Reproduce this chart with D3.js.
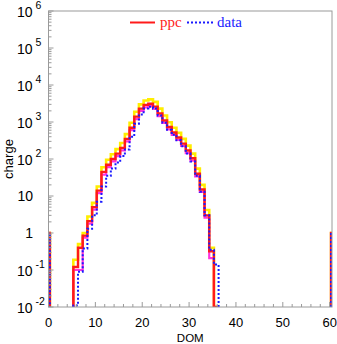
<!DOCTYPE html>
<html><head><meta charset="utf-8">
<script src="https://cdn.jsdelivr.net/npm/d3@7"></script>
<style>body{margin:0;background:#fff}svg{display:block}</style>
</head><body>
<svg id="c" width="337" height="344"></svg>
<script>
// DOM bins (bin k spans k+offset .. k+1+offset)
const bins    = [-1, 5, 6, 7, 8, 9, 10, 11, 12, 13, 14, 15, 16, 17, 18, 19, 20, 21, 22, 23, 24, 25, 26, 27, 28, 29, 30, 31, 32, 33, 34, 35, 60];
const ppc     = [1, 0.12, 0.4, 0.85, 2.1, 5, 14, 45, 70, 100, 140, 200, 350, 700, 1400, 2300, 2900, 3100, 2600, 1700, 1100, 730, 520, 380, 260, 170, 105, 40, 15, 3, 0.32, 0, 1];
const ppcHigh = [1, 0.19, 0.5, 1.0, 2.8, 6.5, 18, 60, 95, 135, 185, 270, 470, 950, 1900, 3000, 3800, 4100, 3500, 2300, 1500, 980, 700, 510, 350, 230, 140, 55, 20, 4.2, 0.4, 0, 1];
const ppcLow  = [1, 0.1, 0.1, 0.75, 1.8, 4.3, 12, 38, 60, 86, 120, 170, 300, 600, 1200, 2000, 2500, 2700, 2250, 1450, 950, 630, 450, 330, 225, 145, 90, 34, 13, 2.6, 0.21, 0, 1];
const data    = [1, 0.011, 0.09, 0.38, 1.3, 3, 7, 18, 35, 55, 80, 120, 180, 400, 900, 1600, 2300, 2600, 2300, 1500, 950, 620, 450, 320, 220, 140, 85, 35, 13, 3, 0.35, 0.14, 1];
const xTicks  = [0, 10, 20, 30, 40, 50, 60];
const yExps   = [-2, -1, 0, 1, 2, 3, 4, 5, 6];
const legendNames = ["ppc", "data"];

const L = 48.5, R = 332, T = 11, B = 307;
const binOffset = 0.3;
const svg = d3.select("#c");
const x = d3.scaleLinear().domain([0, 60.5]).range([L, R]);
const y = d3.scaleLog().domain([1e-2, 1e6]).range([B, T]);
const floorV = 1e-2;

svg.append("defs").append("clipPath").attr("id", "clip")
  .append("rect").attr("x", L).attr("y", T).attr("width", R - L).attr("height", B - T);

function stepPath(vals) {
  let p = "";
  let prevK = null;
  bins.forEach((k, i) => {
    const v = Math.max(vals[i], floorV);
    const lo = x(k + binOffset), hi = x(k + 1 + binOffset);
    if (prevK === null || k !== prevK + 1) {
      if (prevK !== null) p += `L${x(prevK + 1 + binOffset)},${y(floorV)}`;
      p += `M${lo},${y(floorV)}`;
    }
    p += `L${lo},${y(v)}L${hi},${y(v)}`;
    prevK = k;
  });
  p += `L${x(prevK + 1 + binOffset)},${y(floorV)}`;
  return p;
}

const g = svg.append("g").attr("clip-path", "url(#clip)");
g.append("path").attr("d", stepPath(ppcHigh)).attr("fill", "none").attr("stroke", "#ffee00").attr("stroke-width", 2.6);
g.append("path").attr("d", stepPath(ppcLow)).attr("fill", "none").attr("stroke", "#ff33dd").attr("stroke-width", 2.2);
g.append("path").attr("d", stepPath(ppc)).attr("fill", "none").attr("stroke", "#ff1a1a").attr("stroke-width", 2.4);
g.append("path").attr("d", stepPath(data)).attr("fill", "none").attr("stroke", "#1a1aff").attr("stroke-width", 2).attr("stroke-dasharray", "2,2");

// frame
const frameCol = "#9a9a9a";
svg.append("rect").attr("x", L).attr("y", T).attr("width", R - L).attr("height", B - T)
  .attr("fill", "none").attr("stroke", frameCol).attr("stroke-width", 1);

const sans = "Liberation Sans, Arial, sans-serif";
// y ticks
yExps.forEach(e => {
  const v = Math.pow(10, e);
  svg.append("line").attr("x1", L).attr("x2", L + 5).attr("y1", y(v)).attr("y2", y(v)).attr("stroke", frameCol);
  if (e < 6) {
    for (let m = 2; m <= 9; m++) {
      const yy = y(m * v);
      svg.append("line").attr("x1", L).attr("x2", L + 3).attr("y1", yy).attr("y2", yy).attr("stroke", frameCol);
    }
  }
  const t = svg.append("text").attr("font-family", sans).attr("fill", "#000");
  if (e === 0) {
    t.attr("x", 33).attr("y", y(v) + 5).attr("text-anchor", "end").attr("font-size", 14).text("1");
  } else if (e === 1) {
    t.attr("x", 33).attr("y", y(v) + 5).attr("text-anchor", "end").attr("font-size", 14).text("10");
  } else {
    t.attr("x", 17).attr("y", y(v) + 6).attr("font-size", 14);
    t.append("tspan").text("10");
    t.append("tspan").attr("dx", 3).attr("dy", -8).attr("font-size", 10.5).text(String(e));
  }
});

// x ticks
for (let v = 0; v <= 60; v += 2) {
  const len = v % 10 === 0 ? 5 : 3;
  svg.append("line").attr("x1", x(v)).attr("x2", x(v)).attr("y1", B).attr("y2", B - len).attr("stroke", frameCol);
}
xTicks.forEach(v => {
  svg.append("text").attr("x", x(v)).attr("y", 327).attr("text-anchor", "middle")
    .attr("font-family", sans).attr("font-size", 13).text(v);
});

svg.append("text").attr("x", (L + R) / 2).attr("y", 341.5).attr("text-anchor", "middle")
  .attr("font-family", sans).attr("font-size", 11.5).text("DOM");
svg.append("text").attr("transform", `translate(13,${(T + B) / 2}) rotate(-90)`).attr("text-anchor", "middle")
  .attr("font-family", sans).attr("font-size", 13).text("charge");

// legend
const lg = svg.append("g");
lg.append("line").attr("x1", 130).attr("x2", 155).attr("y1", 22.5).attr("y2", 22.5).attr("stroke", "#ff1a1a").attr("stroke-width", 2);
lg.append("text").attr("x", 160).attr("y", 27).attr("fill", "#ff1a1a").attr("font-family", "Liberation Serif, Times New Roman, serif").attr("font-size", 15).text(legendNames[0]);
lg.append("line").attr("x1", 187).attr("x2", 213).attr("y1", 22.5).attr("y2", 22.5).attr("stroke", "#1a1aff").attr("stroke-width", 2).attr("stroke-dasharray", "2,2");
lg.append("text").attr("x", 217).attr("y", 27).attr("fill", "#1a1aff").attr("font-family", "Liberation Serif, Times New Roman, serif").attr("font-size", 15).text(legendNames[1]);
</script>
</body></html>
